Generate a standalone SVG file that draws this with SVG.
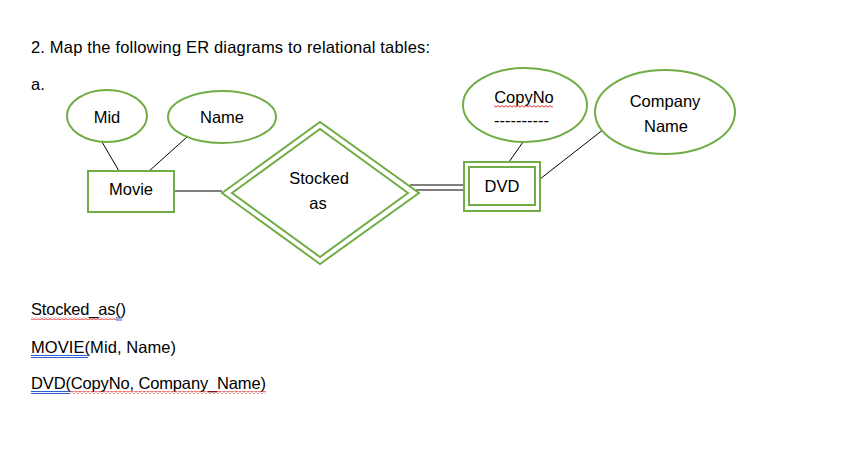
<svg xmlns="http://www.w3.org/2000/svg" width="855" height="452" viewBox="0 0 855 452">
<style>
  text { font-family: "Liberation Sans", Arial, sans-serif; fill: #000; }
  .lbl { font-size: 16.5px; text-anchor: middle; }
  .body { font-size: 16.5px; }
  .shape { fill: #fff; stroke: #70AD47; stroke-width: 2; }
  .conn { stroke: #000; stroke-width: 1; fill: none; }
  .blue { stroke: #2F5FD0; stroke-width: 1; fill: none; }
</style>
<defs>
  <pattern id="wavy" x="0" y="0" width="4" height="3" patternUnits="userSpaceOnUse">
    <path d="M0,2.2 L2,0.6 L4,2.2" stroke="#E02020" stroke-width="0.9" fill="none"/>
  </pattern>
</defs>
<rect width="855" height="452" fill="#fff"/>

<text class="body" x="31" y="53" font-size="17" textLength="399">2. Map the following ER diagrams to relational tables:</text>
<text class="body" x="31" y="90">a.</text>

<g id="connectors">
  <line class="conn" x1="102" y1="142" x2="119" y2="171"/>
  <line class="conn" x1="187" y1="137" x2="148" y2="172"/>
  <line class="conn" x1="174" y1="191" x2="222" y2="191"/>
  <line class="conn" x1="410" y1="185" x2="464" y2="185"/>
  <line class="conn" x1="416" y1="190" x2="464" y2="190"/>
  <line class="conn" x1="523" y1="142" x2="509" y2="162"/>
  <line class="conn" x1="604" y1="129" x2="540" y2="179"/>
</g>

<g id="attr-mid">
  <ellipse class="shape" cx="107" cy="116" rx="40" ry="26"/>
  <text class="lbl" x="107" y="123">Mid</text>
</g>
<g id="attr-name">
  <ellipse class="shape" cx="222" cy="117" rx="54" ry="26"/>
  <text class="lbl" x="222" y="123">Name</text>
</g>
<g id="entity-movie">
  <rect class="shape" x="88" y="171" width="86" height="41"/>
  <text class="lbl" x="131" y="195">Movie</text>
</g>
<g id="rel-stocked-as">
  <polygon class="shape" points="222,193 320,122 419,193 320,264"/>
  <polygon class="shape" points="232,193 320,129 408,193 320,257"/>
  <text class="lbl" x="319" y="184">Stocked</text>
  <text class="lbl" x="318" y="209">as</text>
</g>
<g id="entity-dvd">
  <rect class="shape" x="464" y="162" width="76" height="49"/>
  <rect class="shape" x="469" y="167" width="66" height="38"/>
  <text class="lbl" x="502" y="192">DVD</text>
</g>
<g id="attr-copyno">
  <ellipse class="shape" cx="525" cy="105" rx="62" ry="37"/>
  <text class="lbl" x="524" y="103">CopyNo</text>
  <rect x="494" y="105" width="59" height="3" fill="url(#wavy)"/>
  <text class="body" x="494" y="126" font-size="15.5">----------</text>
</g>
<g id="attr-company-name">
  <ellipse class="shape" cx="665" cy="112" rx="70" ry="42"/>
  <text class="lbl" x="665" y="107">Company</text>
  <text class="lbl" x="666" y="132">Name</text>
</g>

<g id="relations">
  <text class="body" x="31" y="315" textLength="95">Stocked_as()</text>
  <rect x="31" y="317" width="86" height="3" fill="url(#wavy)"/>
  <line class="blue" x1="116" y1="318" x2="122" y2="318"/>
  <line class="blue" x1="116" y1="320" x2="122" y2="320"/>
  <text class="body" x="31" y="353" textLength="145">MOVIE(Mid, Name)</text>
  <line class="blue" x1="31" y1="355.5" x2="88" y2="355.5"/>
  <line class="blue" x1="31" y1="357.5" x2="88" y2="357.5"/>
  <text class="body" x="31" y="389" textLength="235">DVD(CopyNo, Company_Name)</text>
  <line class="blue" x1="31" y1="391.5" x2="70" y2="391.5"/>
  <line class="blue" x1="31" y1="393.5" x2="70" y2="393.5"/>
  <rect x="70" y="391" width="196" height="3" fill="url(#wavy)"/>
</g>
</svg>
